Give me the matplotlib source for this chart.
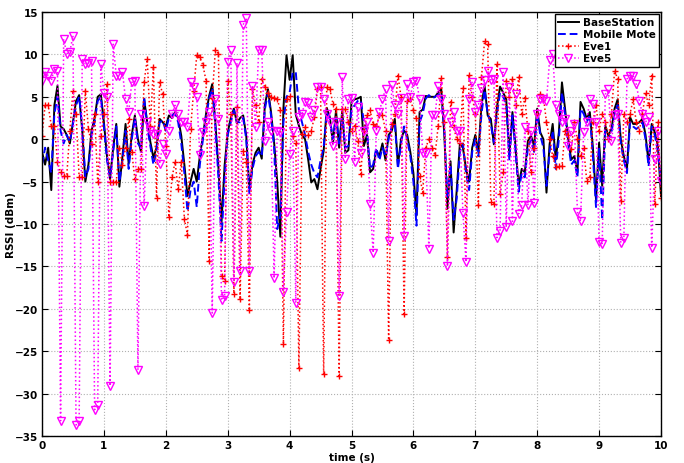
import numpy as np
import matplotlib
matplotlib.use("Agg")
import matplotlib.pyplot as plt

t = np.round(np.arange(0, 10.0001, 0.05), 2)

base_station = [
    -1.5, -3.0, -1.0, -6.0, 4.0, 6.3, 1.5, 1.2, 0.5, -0.5,
    2.0, 4.5, 5.2, 1.0, -5.0, -3.0, 1.0, 2.5, 5.0, 5.3,
    2.0, -2.0, -4.7, -1.0, 1.8, -5.6, -2.0, 1.8, -2.9, 0.5,
    2.8, 0.0, -1.5, 4.7, 2.0, -0.3, -2.2, -1.0, 2.4, 2.0,
    1.5, 2.8, 2.5, 3.2, 2.5, 0.4, -3.0, -6.7, -5.0, -3.5,
    -5.0, -2.0, 0.4, 3.0, 5.1, 6.5, 2.0, -3.3, -9.8, -3.1,
    0.8, 2.5, 3.6, 1.9, 2.5, 2.8, 0.4, -5.9, -3.0, -1.6,
    -1.0, -2.3, 4.0, 5.9, 3.2, -0.4, -5.0, -11.5, 3.6, 9.9,
    7.0, 9.9, 2.9, 1.6, 0.5, 0.0, -2.4, -5.1, -4.7, -5.9,
    -3.5, -1.4, 3.7, 2.6, -0.5, 3.4, -1.0, 3.4, -1.6, -1.3,
    4.4, 4.7, 4.8, 5.0, -0.8, 0.5, -3.9, -3.5, -1.3, -2.0,
    -0.5, -2.5, 0.5, 1.0, 2.4, -3.1, 0.0, 1.0, 0.5, -1.5,
    -4.0, -9.0, 3.2, 3.5, 5.1, 5.0, 5.0, 5.0, 5.5, 5.9,
    0.5, -8.2, -2.6, -11.0, -6.0, -0.6, -1.0, -3.5, -5.0, -1.0,
    0.5, -1.5, 4.0, 6.3, 2.8, 2.4, -0.6, 3.8, 6.2, 5.5,
    4.7, -1.9, 3.2, -0.9, -5.5, -3.5, -3.9, -0.2, 0.4, -0.8,
    3.6, 0.8, 0.0, -6.3, -0.6, 1.8, -2.4, 0.8, 6.7, 3.6,
    0.0, -2.4, -2.0, -3.9, 4.4, 3.6, 2.4, 3.2, -1.0, -7.1,
    -0.4, -5.5, 1.6, 0.4, 1.2, 3.6, 4.7, 0.0, -2.0, -3.5,
    2.6, 1.8, 1.8, 2.0, 2.4, 0.5, -2.8, 1.8, 0.8, -0.8,
    -6.7,
]

mobile_mote = [
    -3.0, -1.0, -2.5, -4.0, 3.0, 5.0, 1.0, -0.5, 0.5, -0.3,
    1.8, 4.0, 5.0, 1.5, -4.5, -3.5, 0.5, 2.0, 4.5, 5.0,
    1.5, -2.5, -4.5, -1.5, 1.5, -5.0, -2.5, 1.0, -3.5, 0.0,
    2.5, -0.5, -1.0, 5.0, 1.5, -0.8, -3.0, -1.5, 2.0, 2.2,
    1.0, 2.5, 2.8, 3.0, 2.0, -0.5, -4.0, -8.5, -6.0, -5.0,
    -8.0, -3.0, 0.0, 2.5, 4.8, 6.0, 1.5, -4.5, -12.0, -4.5,
    0.5, 2.0, 3.4, 2.0, 2.0, 2.5, 0.0, -6.5, -3.5, -2.0,
    -1.5, -2.0, 3.5, 5.5, 2.8, -1.0, -10.6, -9.0, 2.0, 5.0,
    5.5, 7.9, 7.9, 3.5, 2.0, 0.5, -1.5, -3.0, -4.0, -4.5,
    -2.5, -1.0, 3.2, 2.4, 0.0, 2.6, -0.5, 2.5, -1.0, -0.8,
    3.5, 4.0, 4.5, 4.6, 2.0, 1.0, -3.5, -3.0, -1.0, -2.5,
    -1.0, -2.0, 0.0, 1.5, 2.0, -3.5, -0.5, 1.5, 0.0, -2.0,
    -5.0, -10.2, 2.0, 3.0, 4.8, 5.2, 4.8, 5.0, 5.2, 5.5,
    1.0, -7.0, -3.0, -9.5, -7.0, -1.5, -0.5, -4.0, -6.0, -1.5,
    0.0, -2.0, 3.0, 5.8, 3.0, 1.8, -0.4, 3.0, 5.5, 5.0,
    4.2, -2.5, 2.8, -1.5, -6.2, -4.0, -4.5, -1.0, 0.0, -1.5,
    3.0, 0.5, -1.0, -5.5, -1.5, 1.0, -3.5, 0.0, 5.5, 3.0,
    -0.5, -3.0, -2.5, -4.5, 3.6, 3.0, 2.0, 2.8, -2.0, -8.0,
    -1.0, -9.5, 1.0, 0.0, 0.8, 3.0, 4.0, -0.5, -2.5, -4.0,
    2.0, 1.5, 1.2, 1.5, 2.0, 0.0, -3.2, 1.5, 0.5, -1.5,
    -5.0,
]

eve1 = [
    0.4, 4.0, 4.0, 1.6, 1.6, -2.7, -3.9, -4.3, -4.3, 1.0,
    5.7, 3.0, -4.5, -4.5, 5.7, 1.2, -0.6, 3.0, -5.1, 0.4,
    3.0, 6.5, -5.0, -5.0, -5.0, -1.0, -3.0, -1.0, 2.4, -1.5,
    -4.7, -3.5, -3.5, 6.8, 9.4, 1.6, 8.5, -6.9, 6.7, 5.3,
    -0.8, -9.2, -4.5, -2.7, -5.9, -2.7, -9.4, -11.3, 1.2, 5.7,
    9.9, 9.7, 8.7, 6.9, -14.4, 4.9, 10.5, 10.1, -16.1, -16.7,
    6.9, 3.0, -18.2, 3.8, -18.9, -1.4, -2.7, -20.2, 5.9, 4.0,
    2.0, 7.1, 6.1, 5.5, 5.0, 4.9, 4.7, 3.5, -24.1, 4.7,
    5.1, 0.4, -0.4, -27.0, 0.6, 1.4, 0.5, 1.0, 2.6, 5.9,
    6.1, -27.7, 6.1, 5.9, 4.2, 3.6, -27.9, 3.6, 3.6, 2.0,
    1.0, 1.6, -0.2, -4.1, 1.0, 2.8, 3.4, 1.8, 1.5, 2.8,
    2.8, 1.0, -23.7, 1.8, 3.0, 7.5, 5.0, -20.6, 4.5, 4.7,
    3.5, 2.5, -4.3, -6.3, -1.0, 0.0, -1.0, -1.9, 1.6, 7.2,
    2.0, -13.9, 4.4, 1.4, 0.0, -0.4, 6.0, -11.7, 7.6, 5.0,
    3.0, -7.8, 7.3, 11.6, 11.2, -7.4, -7.7, 8.9, -6.5, -3.9,
    6.9, 5.0, 7.1, 4.0, 7.3, 3.0, 4.9, 1.0, -3.9, -1.0,
    3.0, 5.3, 5.0, 2.0, 0.0, -2.0, -3.3, -3.2, -3.2, 1.0,
    0.5, -1.2, 2.0, 0.0, -2.0, -1.0, -4.9, -4.5, 2.0, 4.0,
    1.0, 3.0, 2.0, 0.0, 3.0, 8.1, 7.1, -7.3, 3.0, 2.0,
    3.0, 4.7, 2.0, 1.0, 3.0, 5.5, 4.0, 7.5, -7.7, 2.0,
    -6.9,
]

eve5 = [
    6.9, 7.9, 7.5, 6.9, 8.3, 8.0, -33.2, 11.8, 10.1, 10.3,
    12.2, -33.7, -33.2, 9.5, 8.9, 9.0, 9.2, -31.9, -31.3, 8.9,
    5.5, 5.0, -29.1, 11.2, 7.5, 7.5, 7.9, 4.7, 3.2, 6.7,
    6.9, -27.2, 3.0, -7.9, 2.0, 1.0, 0.6, 0.6, -2.9, -0.6,
    -1.7, 1.0, 3.0, 4.0, 3.0, 2.0, 2.0, 1.4, 6.7, 6.1,
    5.0, -1.9, 0.8, 2.0, 3.2, -20.5, 4.7, 2.4, -19.0, -18.5,
    9.1, 10.5, -16.8, 9.0, -15.5, 13.5, 14.3, -15.5, 6.3, 1.4,
    10.5, 10.5, -0.2, 2.0, 1.0, -16.4, 1.0, 0.8, -18.0, -8.6,
    -1.7, 1.0, -19.3, 2.6, 3.0, 4.4, 4.3, 2.6, 3.5, 6.1,
    6.1, 4.7, 3.0, 2.0, -0.8, 2.0, -18.5, 7.3, -2.3, 4.7,
    4.8, -2.7, 3.8, -1.6, 1.0, 2.0, -7.7, -13.4, 1.0, 3.2,
    4.7, 5.9, -12.0, 6.4, 4.0, 3.0, 4.9, -11.4, 6.5, 5.0,
    6.8, 6.9, 4.7, -1.6, -1.6, -12.9, 2.8, 2.8, 6.3, 4.7,
    3.0, -15.0, 2.0, 3.2, 1.0, 1.0, -8.7, -14.5, 4.7, 6.8,
    3.2, 4.0, 6.0, 7.0, 8.1, 7.0, 7.1, -11.6, -10.8, 7.9,
    -10.4, 6.1, -9.7, 5.3, -8.8, -7.8, 1.4, -7.8, 1.0, -7.5,
    3.0, 4.7, 4.7, 4.5, 9.3, 10.1, 4.0, 3.0, 2.0, 2.4,
    -0.8, 1.0, 1.8, -8.6, -9.7, 0.8, 2.0, 4.7, 4.2, 2.0,
    -12.1, -12.3, 5.3, 5.9, -0.2, 2.8, 3.0, -12.2, -11.7, 7.1,
    7.5, 7.5, 6.5, 4.5, 3.0, 2.0, 2.6, -12.8, -2.3, 1.0,
    -4.9,
]

series_labels = ["BaseStation", "Mobile Mote", "Eve1", "Eve5"]
x_ticks = [0, 1, 2, 3, 4, 5, 6, 7, 8, 9, 10]
y_ticks = [-35, -30, -25, -20, -15, -10, -5, 0, 5, 10, 15]

fig = plt.figure(figsize=(6.84, 4.64), dpi=100)
ax = fig.add_axes([42 / 684, 27 / 464, 619 / 684, 424 / 464])

ax.plot(t, base_station, color="black", lw=1.4, ls="-", label=series_labels[0])
ax.plot(t, mobile_mote, color="#0000ff", lw=1.4, ls=(0, (4, 2)), label=series_labels[1])
ax.plot(t, eve1, color="#ff0000", lw=1.1, ls=":", marker="+", ms=5, mew=1.0,
        label=series_labels[2])
ax.plot(t, eve5, color="#ff00ff", lw=1.1, ls=":", marker="v", ms=5.5, mew=1.0,
        mfc="none", mec="#ff00ff", label=series_labels[3])

ax.set_xlim(0, 10)
ax.set_ylim(-35, 15)
ax.set_xticks(x_ticks)
ax.set_yticks(y_ticks)
ax.tick_params(direction="in", length=4, width=0.8, labelsize=7.5, top=True, right=True, pad=3)
for lab in ax.get_xticklabels() + ax.get_yticklabels():
    lab.set_fontweight("bold")
ax.grid(True, color="#b0b0b0", ls=":", lw=0.8)
for sp in ax.spines.values():
    sp.set_linewidth(1.0)

ax.set_xlabel("time (s)", fontsize=7.5, fontweight="bold", labelpad=1)
ax.set_ylabel("RSSI (dBm)", fontsize=7.5, fontweight="bold")
ax.yaxis.set_label_coords(-0.042, 0.5)

leg = ax.legend(loc="upper right", prop={"weight": "bold", "size": 7.5},
                frameon=True, fancybox=False, edgecolor="black", framealpha=1,
                borderaxespad=0.2, handlelength=2.0, labelspacing=0.2,
                borderpad=0.3, handletextpad=0.4)
leg.get_frame().set_linewidth(1.0)

fig.savefig("out.png", dpi=100)
